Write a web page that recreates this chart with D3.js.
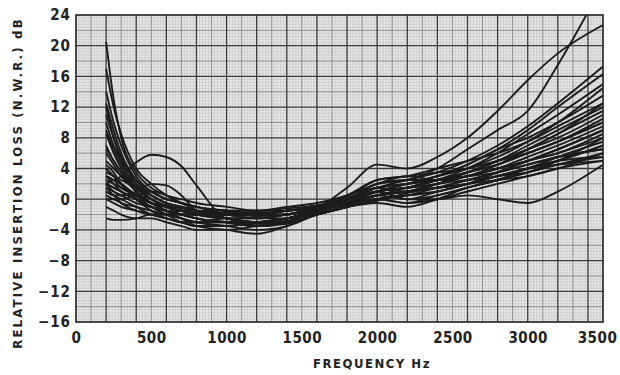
<!DOCTYPE html>
<html><head><meta charset="utf-8">
<script src="https://cdn.jsdelivr.net/npm/d3@7"></script>
<style>
html,body{margin:0;padding:0;background:#fff;}
svg text{font-family:'DejaVu Sans Condensed','DejaVu Sans',sans-serif;font-stretch:condensed;font-weight:bold;fill:#222;}
</style></head>
<body><svg id="c" width="620" height="375"></svg>
<script>
// ---- data ----
const freqs = [200,250,300,400,500,600,700,800,1000,1200,1400,1600,1800,2000,2200,2400,2600,2800,3000,3200,3500];
const xTicks = [0,500,1000,1500,2000,2500,3000,3500];
const yTicks = [-16,-12,-8,-4,0,4,8,12,16,20,24];
// curves with a high start near 200 Hz
const highStart = [
  [20.5,13,8,3.5,1.5,0.5,0,-0.5,-1,-1.5,-1.5,-1,0,1.5,2.5,3.5,5,7,9.5,12.5,17.3],
  [17,12,8.5,4,2,0.5,-0.5,-1,-1.5,-2,-2,-1,0,1,2,3,4.5,6.5,9,12,16.3],
  [14,10,7,3,1,0,-0.5,-1,-2,-2.5,-2,-1.5,-0.5,0.5,1.5,2.5,4,6,8.5,11,15],
  [12.5,9,6,2.5,0.5,-0.5,-1,-1.5,-2,-2.5,-2.5,-1.5,-0.5,1,2,3,4.5,6.5,8,10,13.5],
  [11,8,5.5,2,0,-1,-1.5,-2,-2.5,-3,-2.5,-1.5,0,1.5,1,2,3.5,5,7,9,12],
  [10,7,5,2.5,1,0,-0.5,-1,-1.5,-2,-1.5,-1,0,2,2.5,2.5,3,4.5,6.5,8.5,11.5],
  [8.5,6,4,1.5,0,-1,-1.5,-2,-2.5,-2.5,-2,-1,0.5,2.5,3,3.5,4,5,6,7.5,10],
  [7,5,3.5,1,-0.5,-1.5,-2,-2,-2.5,-3,-2.5,-1.5,-0.5,0.5,1,2,3,4,5.5,7,9.5]
];
// curves with a moderate or low start
const lowStart = [
  [6,4.5,3,1.5,0.5,-0.5,-1,-1.5,-2,-2,-1.5,-1,0,1.5,2,2.5,3,4,5,6.5,9],
  [5,4,3,1,-0.5,-1,-1.5,-2,-2.5,-3,-2.5,-1.5,-0.5,1,0,0.5,1.5,2.5,3.5,5,8],
  [4,3,2,0.5,-1,-1.5,-2,-2.5,-3,-3.5,-3,-2,-1,0.5,1,1.5,2,3,4,5.5,7.5],
  [3.5,3,2.5,1.5,1,0,-0.5,-1,-1.5,-1.5,-1,-0.5,0.5,2,3,2.5,3.5,5,6.5,8,11],
  [3,2,1,0,-1,-2,-2.5,-3,-3.5,-4,-3.5,-2,-1,0,-0.5,0,1,2,3,4,6],
  [2.5,2,1.5,0.5,-0.5,-1.5,-2,-2,-2,-2,-2,-1,0,1,1.5,2.5,3.5,4.5,6,7.5,10],
  [2,1.5,1,0,-1,-2,-3,-3.5,-3.5,-3,-2.5,-1.5,-0.5,0.5,1,2,2.5,3,4,5,7],
  [1.5,1,0.5,-0.5,-1,-1.5,-2,-2.5,-3,-3.5,-3,-2,-1,0,0.5,1.5,2.5,3.5,4.5,5.5,6.5],
  [1,0.5,0,-1,-2,-2.5,-3,-3,-3,-3.5,-3,-2,-1,-0.5,-1,0,1.5,2.5,4,5,5.5],
  [0.5,0,-0.5,-1,-1.5,-2,-2.5,-3.5,-4,-4.5,-3.5,-2,-1,0,0.5,1,2,3,4,4.5,5],
  [0,-0.5,-1,-1.5,-2,-2.5,-3,-3,-3,-3,-2.5,-1.5,-0.5,1,1.5,2,3,4,5,6,8.5],
  [-1,-1.5,-2,-2.5,-2.5,-3,-3.5,-4,-4,-3.5,-3,-2,-1,0,0.5,1,2,3,3.5,4.5,5.5],
  [-2.5,-2.7,-2.7,-2.5,-2,-2,-2,-2,-2.5,-3,-2.5,-1.5,-0.5,0.5,1,1.5,2,3,4,5,7]
];
// further curves filling the central bundle
const midBundle = [
  [9,6.5,4.5,2,0.5,-0.5,-1,-1.5,-1.5,-1.5,-1.2,-0.8,0,1.5,2,3,4,5.5,7.5,10,14.5],
  [6.5,5,3.5,1.5,0,-1,-1.5,-2,-2,-2.2,-2,-1.2,-0.3,1,1.5,2.5,3.5,5,6.5,8.5,12.5],
  [3,2.5,2,0.5,-0.5,-1.5,-2.5,-3,-2.5,-2.5,-2,-1.3,-0.5,1.5,2,2.5,3,3.5,4.5,5.5,6.5],
  [2,1,0.5,0.5,0,-1,-2,-2.5,-3,-3.2,-2.8,-1.8,-0.8,0.5,0,1,2,3.5,5,6,8],
  [4.5,3.5,2,0,-1.5,-2.5,-3,-3.5,-3.5,-3,-2.5,-1.8,-1,0,-0.5,0.5,1.5,2.5,3.5,4.5,6],
  [1.5,0.5,-0.5,-1.5,-2,-2,-1.5,-1.8,-2.5,-3.5,-3.2,-2,-1,-0.2,0.8,1.5,2.5,3.5,5,6.5,9],
  [12,8,5,1.5,0,-0.8,-1.2,-1.5,-1.8,-1.8,-1.5,-0.8,0.3,2.5,3,4,5,6,7.5,9.5,12.5],
  [0,0,0,0.5,1,0.5,-0.5,-1.5,-2.5,-3.5,-3,-2,-1,0.5,1,1.5,2,2.5,3,4,5]
];
// individually distinct curves
const bigHump   = [2,2.5,3,4.8,5.8,5.5,4.3,1.8,-2.5,-3,-2.5,-1.5,-0.5,1,1.5,2.5,3.5,4.5,6,7.5,10.5];
const smallHump = [1,0.5,0.5,1,2,1.8,0.5,-1.5,-2.5,-3,-2.5,-1.5,-0.5,1,1.5,2,3,4,5,6.5,9];
const topCurve  = [4,3,2,0.5,-0.5,-1,-1.5,-1.5,-2,-2,-1.5,-1,1.5,4.5,4,5.5,8,11.5,15.5,19,22.7];
const steepCurve= [3,2.5,1.5,0.5,-0.5,-1,-1.5,-2,-2,-2,-1.5,-1,0,2,2.5,4,6.5,9,11.5,17.5,28];
const dipCurve  = [2,1.5,1,0,-1,-1.5,-2,-2.5,-3,-3,-2.5,-1.5,-0.5,1,0,0,0.5,0,-0.5,1,4.5];
const allCurves = highStart.concat(lowStart, midBundle, [bigHump, smallHump, topCurve, steepCurve, dipCurve]);

// ---- chart ----
const L=76,R=603,T=15,B=322;
const x = d3.scaleLinear().domain([0,3500]).range([L,R]);
const y = d3.scaleLinear().domain([-16,24]).range([B,T]);
const svg = d3.select('#c');

svg.append('rect').attr('x',L).attr('y',T).attr('width',R-L).attr('height',B-T).attr('fill','#e8e8e8');
const g = svg.append('g');
// fine graph-paper lines
g.selectAll('.fv').data(d3.range(0,3501,20)).enter().append('line')
  .attr('x1',d=>x(d)).attr('x2',d=>x(d)).attr('y1',T).attr('y2',B)
  .attr('stroke','#c2c2c2').attr('stroke-width',0.6);
g.selectAll('.fh').data(d3.range(-16,24.01,0.4)).enter().append('line')
  .attr('y1',d=>y(d)).attr('y2',d=>y(d)).attr('x1',L).attr('x2',R)
  .attr('stroke','#c2c2c2').attr('stroke-width',0.6);
// medium lines
g.selectAll('.mv').data(d3.range(100,3500,200)).enter().append('line')
  .attr('x1',d=>x(d)).attr('x2',d=>x(d)).attr('y1',T).attr('y2',B)
  .attr('stroke','#808080').attr('stroke-width',0.8);
g.selectAll('.mh').data(d3.range(-14,24,4)).enter().append('line')
  .attr('y1',d=>y(d)).attr('y2',d=>y(d)).attr('x1',L).attr('x2',R)
  .attr('stroke','#808080').attr('stroke-width',0.8);
// heavy lines
g.selectAll('.hv').data(d3.range(200,3500,200)).enter().append('line')
  .attr('x1',d=>x(d)).attr('x2',d=>x(d)).attr('y1',T).attr('y2',B)
  .attr('stroke','#3a3a3a').attr('stroke-width',1.3);
g.selectAll('.hh').data(d3.range(-12,24,4)).enter().append('line')
  .attr('y1',d=>y(d)).attr('y2',d=>y(d)).attr('x1',L).attr('x2',R)
  .attr('stroke','#3a3a3a').attr('stroke-width',1.3);

svg.append('clipPath').attr('id','clip').append('rect')
  .attr('x',L).attr('y',T).attr('width',R-L).attr('height',B-T);

const line = d3.line().x((d,i)=>x(freqs[i])).y(d=>y(d)).curve(d3.curveMonotoneX);
svg.append('g').attr('clip-path','url(#clip)').selectAll('path').data(allCurves).enter().append('path')
  .attr('d',line).attr('fill','none').attr('stroke','#1b1d1b').attr('stroke-width',1.9);

svg.append('rect').attr('x',L).attr('y',T).attr('width',R-L).attr('height',B-T)
  .attr('fill','none').attr('stroke','#222').attr('stroke-width',1.6);

// axes
const ya = svg.append('g').attr('transform',`translate(${L},0)`)
  .call(d3.axisLeft(y).tickValues(yTicks).tickSize(0).tickPadding(5));
ya.select('.domain').remove();
ya.selectAll('text').style('font-size','15px').style('letter-spacing','1px').attr('fill','#222');

const xa = svg.append('g').attr('transform',`translate(0,${B})`)
  .call(d3.axisBottom(x).tickValues(xTicks).tickSize(0).tickPadding(10).tickFormat(d3.format('d')));
xa.select('.domain').remove();
xa.selectAll('text').style('font-size','15px').style('letter-spacing','0.5px').attr('fill','#222')
  .attr('dx',d=>d===3500?-6:0);

svg.append('text').attr('x',372).attr('y',368).attr('text-anchor','middle')
  .style('font-size','13px').style('letter-spacing','1.5px').text('FREQUENCY Hz');
svg.append('text').attr('transform','translate(22,183) rotate(-90)').attr('text-anchor','middle')
  .style('font-size','13px').style('letter-spacing','2.2px').text('RELATIVE INSERTION LOSS (N.W.R.) dB');
</script></body></html>
